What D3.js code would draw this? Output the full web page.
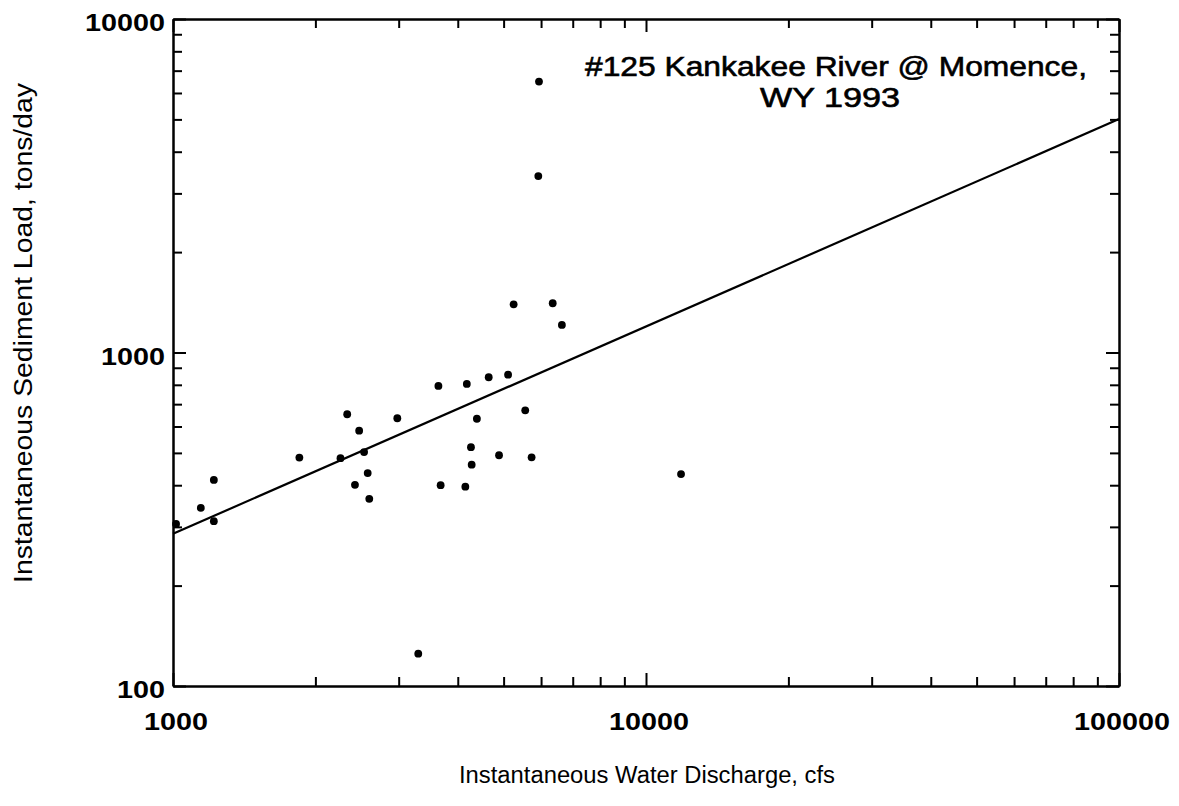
<!DOCTYPE html>
<html>
<head>
<meta charset="utf-8">
<script src="https://cdn.jsdelivr.net/npm/d3@7"></script>
<style>
body { margin: 0; background: #fff; }
svg { display: block; }
</style>
</head>
<body>
<div id="chart"></div>
<script>
var discharge = [1015, 1145, 1220, 1220, 1850, 2260, 2335, 2425, 2475, 2535, 2580, 2600, 2980, 3300, 3640, 3680,
                 4150, 4180, 4265, 4280, 4390, 4650, 4890, 5110, 5250, 5555, 5730, 5920, 5940, 6350, 6640, 11860];
var load = [306, 342, 415, 312, 484, 482, 653, 401, 583, 503, 435, 364, 635, 125, 794, 400,
            396, 805, 520, 461, 633, 843, 492, 858, 1395, 671, 485, 3380, 6490, 1405, 1210, 432];

// rating curve end points
var fitDischarge = [1000, 100000];
var fitLoad = [286, 5010];

var xMajor = [1000, 10000, 100000];
var yMajor = [100, 1000, 10000];

var titleLines = ["#125 Kankakee River @ Momence,", "WY 1993"];
var xTitle = "Instantaneous Water Discharge, cfs";
var yTitle = "Instantaneous Sediment Load, tons/day";

var W = 1179, H = 806;
var plotL = 173, plotR = 1119, plotT = 19, plotB = 686;

var svg = d3.select("#chart")
    .append("svg")
    .attr("width", W)
    .attr("height", H)
    .attr("xmlns", "http://www.w3.org/2000/svg")
    .style("font-family", "'Liberation Sans', Arial, Helvetica, sans-serif");

svg.append("rect").attr("width", W).attr("height", H).attr("fill", "#fff");

var x = d3.scaleLog().domain([1000, 100000]).range([plotL, plotR]);
var y = d3.scaleLog().domain([100, 10000]).range([plotB, plotT]);

var xMinor = x.ticks().filter(function(v) { return xMajor.indexOf(v) < 0; });
var yMinor = y.ticks().filter(function(v) { return yMajor.indexOf(v) < 0; });

// box + inward ticks on all four sides
function drawAxis(axisFn, scale, vals, len, tx, ty) {
    var g = svg.append("g")
        .attr("transform", "translate(" + tx + "," + ty + ")")
        .call(axisFn(scale).tickValues(vals).tickSize(-len).tickSizeOuter(0).tickFormat(""));
    g.selectAll(".domain").attr("stroke", "#000").attr("stroke-width", 2);
    g.selectAll(".tick line").attr("stroke", "#000").attr("stroke-width", 2);
    return g;
}
drawAxis(d3.axisBottom, x, xMinor, 9, 0, plotB);
drawAxis(d3.axisBottom, x, xMajor, 13, 0, plotB);
drawAxis(d3.axisTop, x, xMinor, 9, 0, plotT);
drawAxis(d3.axisTop, x, xMajor, 13, 0, plotT);
drawAxis(d3.axisLeft, y, yMinor, 9, plotL, 0);
drawAxis(d3.axisLeft, y, yMajor, 13, plotL, 0);
drawAxis(d3.axisRight, y, yMinor, 9, plotR, 0);
drawAxis(d3.axisRight, y, yMajor, 13, plotR, 0);

// tick labels
svg.append("g").selectAll("text")
    .data(xMajor)
    .enter().append("text")
    .attr("x", function(d) { return x(d) + 3; })
    .attr("y", 730)
    .attr("text-anchor", "middle")
    .attr("font-size", 24)
    .attr("font-weight", "bold")
    .attr("textLength", function(d) { return String(d).length * 16; })
    .attr("lengthAdjust", "spacingAndGlyphs")
    .text(function(d) { return String(d); });

svg.append("g").selectAll("text")
    .data(yMajor)
    .enter().append("text")
    .attr("x", 165)
    .attr("y", function(d) { return y(d) + 12; })
    .attr("text-anchor", "end")
    .attr("font-size", 24)
    .attr("font-weight", "bold")
    .attr("textLength", function(d) { return String(d).length * 16; })
    .attr("lengthAdjust", "spacingAndGlyphs")
    .text(function(d) { return String(d); });

// fitted line
var line = d3.line()
    .x(function(d) { return x(d[0]); })
    .y(function(d) { return y(d[1]); });
svg.append("path")
    .datum(d3.zip(fitDischarge, fitLoad))
    .attr("d", line)
    .attr("fill", "none")
    .attr("stroke", "#000")
    .attr("stroke-width", 2.2);

// samples
svg.append("g").selectAll("circle")
    .data(d3.zip(discharge, load))
    .enter().append("circle")
    .attr("cx", function(d) { return x(d[0]); })
    .attr("cy", function(d) { return y(d[1]); })
    .attr("r", 3.9)
    .attr("fill", "#000");

// station title (scan is a bit heavier than plain regular)
svg.append("text")
    .attr("x", 836).attr("y", 76)
    .attr("text-anchor", "middle")
    .attr("font-size", 28)
    .attr("stroke", "#000")
    .attr("stroke-width", 0.6)
    .attr("textLength", 502)
    .attr("lengthAdjust", "spacingAndGlyphs")
    .text(titleLines[0]);
svg.append("text")
    .attr("x", 830).attr("y", 107)
    .attr("text-anchor", "middle")
    .attr("font-size", 28)
    .attr("stroke", "#000")
    .attr("stroke-width", 0.6)
    .attr("textLength", 140)
    .attr("lengthAdjust", "spacingAndGlyphs")
    .text(titleLines[1]);

// axis titles
svg.append("text")
    .attr("x", 647).attr("y", 783)
    .attr("text-anchor", "middle")
    .attr("font-size", 23)
    .attr("textLength", 376)
    .attr("lengthAdjust", "spacingAndGlyphs")
    .text(xTitle);
svg.append("text")
    .attr("transform", "translate(32,333) rotate(-90)")
    .attr("text-anchor", "middle")
    .attr("font-size", 26)
    .attr("textLength", 500)
    .attr("lengthAdjust", "spacingAndGlyphs")
    .text(yTitle);
</script>
</body>
</html>
